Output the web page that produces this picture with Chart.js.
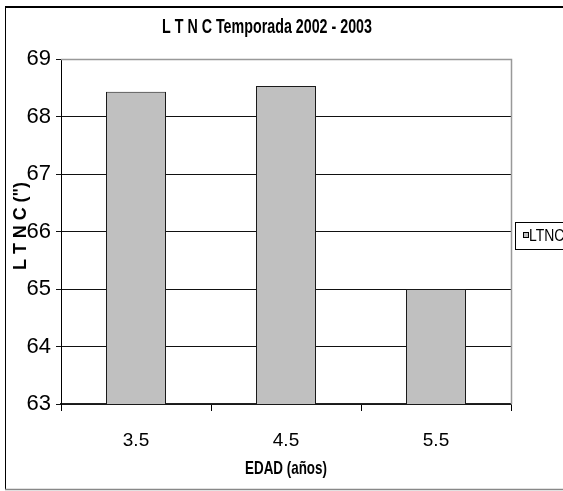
<!DOCTYPE html>
<html>
<head>
<meta charset="utf-8">
<script src="https://cdn.jsdelivr.net/npm/chart.js@4/dist/chart.umd.min.js"></script>
<style>
  html, body { margin: 0; padding: 0; background: #fff; overflow: hidden; }
  #wrap { position: relative; width: 563px; height: 491px; }
</style>
</head>
<body>
<div id="wrap"><canvas id="c" width="563" height="491"></canvas></div>
<script>
// Age classes and mean length per class
const categories = ['3.5', '4.5', '5.5'];
const ltncValues = [68.43, 68.53, 65.0];
const seriesName = 'LTNC';
const yMin = 63;
const yMax = 69;

const chartTitle = 'L T N C Temporada 2002 - 2003';
const xTitle = 'EDAD (años)';
const yTitle = 'L T N C (")';

const SANS = "'Liberation Sans', Arial, sans-serif";
const BAR_FILL = '#c0c0c0';

// Draws text squeezed horizontally to a given width (narrow face look)
function condensedText(ctx, text, x, y, font, width, angle) {
  ctx.save();
  ctx.font = font;
  ctx.fillStyle = '#000';
  ctx.textAlign = 'center';
  ctx.textBaseline = 'middle';
  const w = ctx.measureText(text).width;
  ctx.translate(x, y);
  if (angle) ctx.rotate(angle);
  ctx.scale(width / w, 1);
  ctx.fillText(text, 0, 0);
  ctx.restore();
}

// Outer frame, titles, plot-area border and the boxed legend at the right edge
const framePlugin = {
  id: 'frame',
  beforeDraw(chart) {
    const ctx = chart.ctx;
    ctx.save();
    ctx.fillStyle = '#fff';
    ctx.fillRect(0, 0, chart.width, chart.height);
    ctx.restore();
  },
  afterDraw(chart) {
    const ctx = chart.ctx;
    const a = chart.chartArea;
    ctx.save();
    // outer frame
    ctx.strokeStyle = '#000';
    ctx.lineWidth = 2;
    ctx.beginPath();
    ctx.moveTo(5, 7); ctx.lineTo(chart.width + 2, 7);
    ctx.stroke();
    ctx.lineWidth = 1;
    ctx.beginPath();
    ctx.moveTo(5.5, 6); ctx.lineTo(5.5, 490);
    ctx.stroke();
    ctx.strokeStyle = '#888';
    ctx.lineWidth = 1.5;
    ctx.beginPath();
    ctx.moveTo(5, 489.5); ctx.lineTo(chart.width + 2, 489.5);
    ctx.stroke();

    // plot-area border (top and right)
    ctx.strokeStyle = '#999';
    ctx.lineWidth = 1.5;
    ctx.beginPath();
    ctx.moveTo(a.left, a.top + 0.5);
    ctx.lineTo(a.right + 0.5, a.top + 0.5);
    ctx.lineTo(a.right + 0.5, a.bottom);
    ctx.stroke();
    ctx.restore();

    // titles
    condensedText(ctx, chartTitle, 267, 27, 'bold 20px ' + SANS, 210);
    condensedText(ctx, xTitle, 286, 469, 'bold 19px ' + SANS, 82);
    condensedText(ctx, yTitle, 21, 226, 'bold 18px ' + SANS, 88, -Math.PI / 2);

    // legend box
    const ds = chart.data.datasets[0];
    ctx.save();
    ctx.strokeStyle = '#000';
    ctx.lineWidth = 1;
    ctx.strokeRect(515.5, 222.5, 80, 27);
    ctx.fillStyle = ds.backgroundColor;
    ctx.fillRect(523.5, 232.5, 5, 5);
    ctx.strokeRect(523.5, 232.5, 5, 5);
    ctx.font = '17px ' + SANS;
    ctx.fillStyle = '#000';
    ctx.textBaseline = 'middle';
    ctx.textAlign = 'left';
    ctx.translate(529, 236);
    ctx.scale(0.82, 1);
    ctx.fillText(ds.label, 0, 0);
    ctx.restore();
  }
};

new Chart(document.getElementById('c'), {
  type: 'bar',
  data: {
    labels: categories,
    datasets: [{
      label: seriesName,
      data: ltncValues,
      backgroundColor: BAR_FILL,
      borderColor: '#1a1a1a',
      borderWidth: 1,
      borderSkipped: false,
      categoryPercentage: 1.0,
      barPercentage: 0.4
    }]
  },
  options: {
    responsive: false,
    animation: false,
    devicePixelRatio: 1,
    layout: { padding: { left: 0, right: 52, top: 59, bottom: 0 } },
    plugins: {
      legend: { display: false },
      tooltip: { enabled: false },
      title: { display: false }
    },
    scales: {
      x: {
        offset: true,
        grid: {
          offset: true,
          drawOnChartArea: false,
          drawTicks: true,
          tickLength: 7,
          color: '#000'
        },
        border: { color: '#222', width: 1.5 },
        ticks: {
          color: '#000',
          font: { family: SANS, size: 19 },
          padding: 18
        },
        afterFit(scale) { scale.height = 87; }
      },
      y: {
        min: yMin,
        max: yMax,
        grid: {
          color: '#111',
          lineWidth: 1,
          tickLength: 5,
          drawTicks: true
        },
        border: { color: '#000', width: 1 },
        ticks: {
          stepSize: 1,
          color: '#000',
          font: { family: SANS, size: 22 },
          padding: 5
        },
        afterFit(scale) { scale.width = 61; }
      }
    }
  },
  plugins: [framePlugin]
});
</script>
</body>
</html>
